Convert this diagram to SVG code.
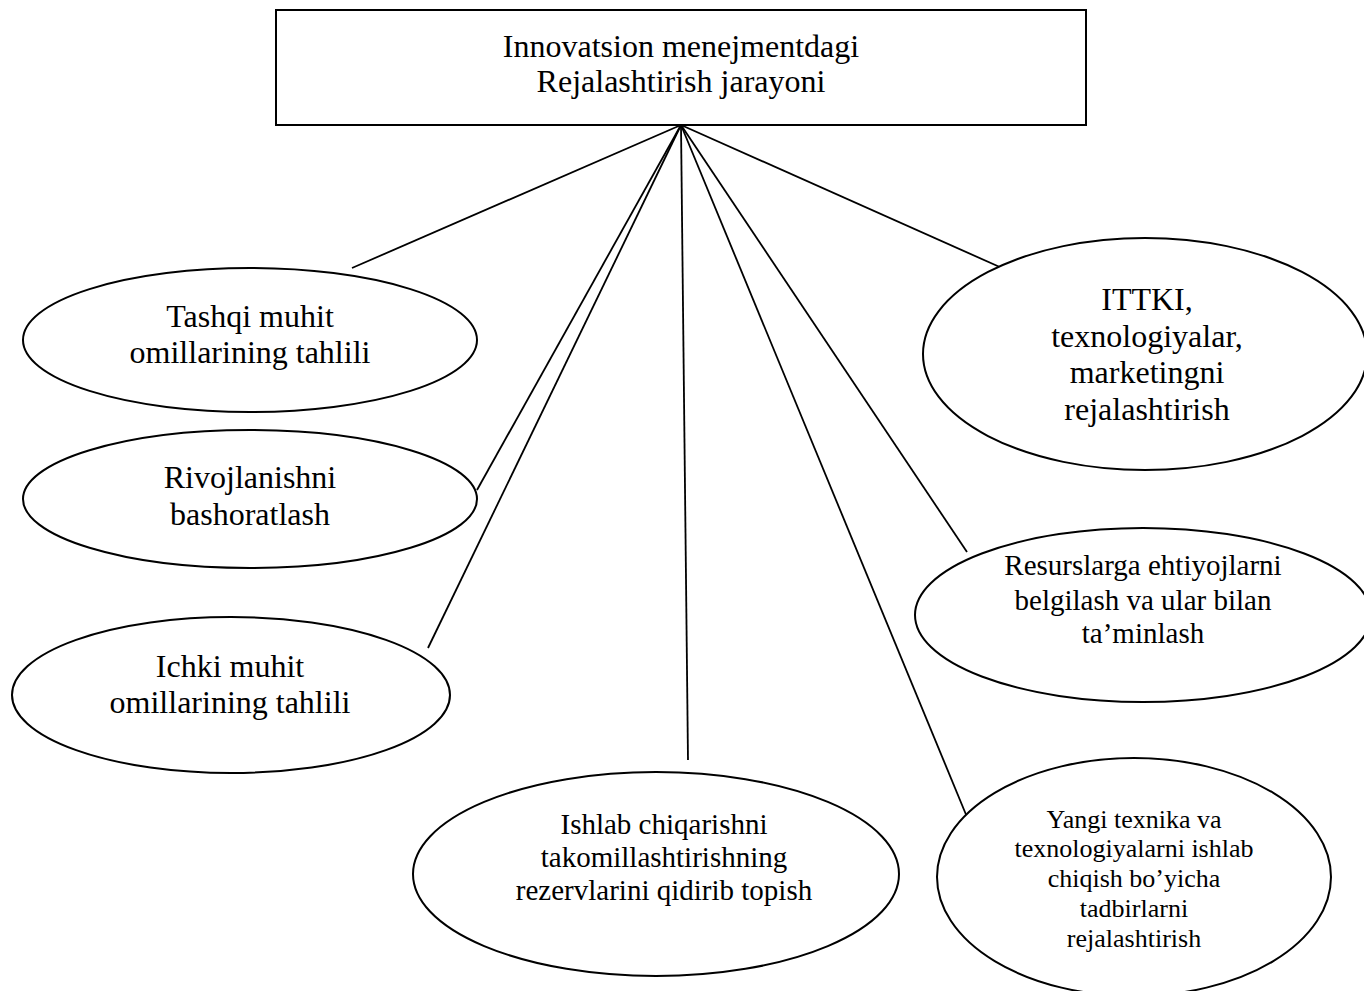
<svg xmlns="http://www.w3.org/2000/svg" width="1364" height="991" viewBox="0 0 1364 991">
  <style>
    .shape { fill: #ffffff; stroke: #000000; stroke-width: 2; }
    .link { stroke: #000000; stroke-width: 1.8; fill: none; }
    text { font-family: "Liberation Serif", "Times New Roman", serif; fill: #000000; text-anchor: middle; }
    .t32 { font-size: 32px; }
    .t29 { font-size: 29px; }
    .t26 { font-size: 26px; }
  </style>
  <rect x="0" y="0" width="1364" height="991" fill="#ffffff"/>

  <!-- connectors from the bottom centre of the main box -->
  <g id="connectors">
    <line class="link" x1="681" y1="125" x2="352" y2="268"/>
    <line class="link" x1="681" y1="125" x2="477" y2="490"/>
    <line class="link" x1="681" y1="125" x2="428" y2="648"/>
    <line class="link" x1="681" y1="125" x2="688" y2="760"/>
    <line class="link" x1="681" y1="125" x2="967" y2="817"/>
    <line class="link" x1="681" y1="125" x2="967" y2="552"/>
    <line class="link" x1="681" y1="125" x2="1002" y2="268"/>
  </g>

  <g id="main">
    <rect class="shape" x="276" y="10" width="810" height="115"/>
    <text class="t32" x="681" y="57">Innovatsion menejmentdagi</text>
    <text class="t32" x="681" y="92">Rejalashtirish jarayoni</text>
  </g>

  <g id="tashqi">
    <ellipse class="shape" cx="250" cy="340" rx="227" ry="72"/>
    <text class="t32" x="250" y="327">Tashqi muhit</text>
    <text class="t32" x="250" y="363">omillarining tahlili</text>
  </g>

  <g id="rivojlanish">
    <ellipse class="shape" cx="250" cy="499" rx="227" ry="69"/>
    <text class="t32" x="250" y="488">Rivojlanishni</text>
    <text class="t32" x="250" y="525">bashoratlash</text>
  </g>

  <g id="ichki">
    <ellipse class="shape" cx="231" cy="695" rx="219" ry="78"/>
    <text class="t32" x="230" y="677">Ichki muhit</text>
    <text class="t32" x="230" y="713">omillarining tahlili</text>
  </g>

  <g id="ishlab">
    <ellipse class="shape" cx="656" cy="874" rx="243" ry="102"/>
    <text class="t29" x="664" y="834">Ishlab chiqarishni</text>
    <text class="t29" x="664" y="867">takomillashtirishning</text>
    <text class="t29" x="664" y="900">rezervlarini qidirib topish</text>
  </g>

  <g id="ittki">
    <ellipse class="shape" cx="1145" cy="354" rx="222" ry="116"/>
    <text class="t32" x="1147" y="310">ITTKI,</text>
    <text class="t32" x="1147" y="347">texnologiyalar,</text>
    <text class="t32" x="1147" y="383">marketingni</text>
    <text class="t32" x="1147" y="420">rejalashtirish</text>
  </g>

  <g id="resurslar">
    <ellipse class="shape" cx="1143" cy="615" rx="228" ry="87"/>
    <text class="t29" x="1143" y="575">Resurslarga ehtiyojlarni</text>
    <text class="t29" x="1143" y="610">belgilash va ular bilan</text>
    <text class="t29" x="1143" y="643">ta’minlash</text>
  </g>

  <g id="yangi">
    <ellipse class="shape" cx="1134" cy="877" rx="197" ry="119"/>
    <text class="t26" x="1134" y="828">Yangi texnika va</text>
    <text class="t26" x="1134" y="857">texnologiyalarni ishlab</text>
    <text class="t26" x="1134" y="887">chiqish bo’yicha</text>
    <text class="t26" x="1134" y="917">tadbirlarni</text>
    <text class="t26" x="1134" y="947">rejalashtirish</text>
  </g>
</svg>
